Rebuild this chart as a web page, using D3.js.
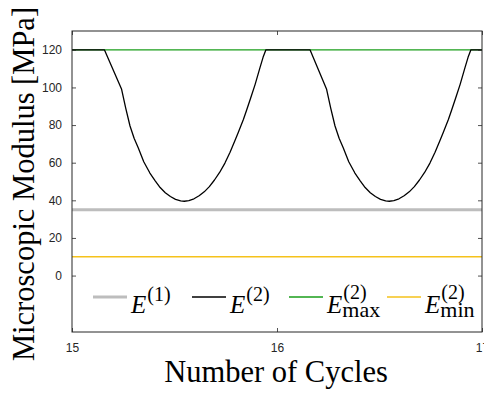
<!DOCTYPE html>
<html>
<head>
<meta charset="utf-8">
<script src="https://cdn.jsdelivr.net/npm/d3@7/dist/d3.min.js"></script>
<style>
  body { margin: 0; background: #fff; }
  svg { display: block; }
</style>
</head>
<body>
<svg id="chart" width="484" height="395"></svg>
<script>
// Cycle counter and microscopic modulus of phase 2 (MPa)
const cycleNumbers = [
  15.000, 15.158, 15.242, 15.262, 15.283, 15.303, 15.323, 15.350, 15.380, 15.405,
  15.430, 15.455, 15.480, 15.505, 15.530, 15.548, 15.570, 15.595, 15.620, 15.645,
  15.670, 15.695, 15.720, 15.746, 15.771, 15.796, 15.811, 15.836, 15.852, 15.872,
  15.893, 15.917, 15.932, 15.946,
  16.161, 16.242, 16.262, 16.283, 16.303, 16.323, 16.350, 16.380, 16.405,
  16.430, 16.455, 16.480, 16.505, 16.530, 16.548, 16.570, 16.595, 16.620, 16.645,
  16.670, 16.695, 16.720, 16.746, 16.771, 16.796, 16.811, 16.836, 16.852, 16.872,
  16.893, 16.917, 16.932, 16.946, 17.000
];
const modulusE2 = [
  120, 120, 99, 89, 79.5, 73, 68, 60.5, 54.5, 50.5,
  46.8, 44, 42, 40.5, 39.7, 39.5, 39.8, 40.8, 42.4, 44.5,
  47.3, 50.8, 54.8, 59.8, 65.5, 72, 76, 83, 88, 94.5,
  101.5, 110.5, 116, 120,
  120, 99, 89, 79.5, 73, 68, 60.5, 54.5, 50.5,
  46.8, 44, 42, 40.5, 39.7, 39.5, 39.8, 40.8, 42.4, 44.5,
  47.3, 50.8, 54.8, 59.8, 65.5, 72, 76, 83, 88, 94.5,
  101.5, 110.5, 116, 120, 120
];
const modulusE1 = 35;
const modulusMax = 120;
const modulusMin = 10;

const xDomain = [15, 17];
const yDomain = [-30, 130];
const xTicks = [15, 16, 17];
const yTicks = [0, 20, 40, 60, 80, 100, 120];

const legendEntries = [
  { key: "e1",   sup: "(1)", sub: "" },
  { key: "e2",   sup: "(2)", sub: "" },
  { key: "emax", sup: "(2)", sub: "max" },
  { key: "emin", sup: "(2)", sub: "min" }
];

const styles = {
  e1:   { color: "#bdbdbd", width: 3 },
  e2:   { color: "#000000", width: 1.3 },
  emax: { color: "#1a9e1a", width: 1.3 },
  emin: { color: "#f5c21b", width: 1.3 }
};

const svg = d3.select("#chart");
const plot = { left: 72, right: 482, top: 31, bottom: 332 };
const axisColor = "#262626";

const x = d3.scaleLinear().domain(xDomain).range([plot.left, plot.right]);
const y = d3.scaleLinear().domain(yDomain).range([plot.bottom, plot.top]);

const lineGen = d3.line().x(d => x(d[0])).y(d => y(d[1]));
const g = svg.append("g");

// constant reference levels span the full cycle range
function levelLine(value) {
  return [[xDomain[0], value], [xDomain[1], value]];
}

g.append("path").datum(levelLine(modulusE1))
  .attr("d", lineGen).attr("fill", "none")
  .attr("stroke", styles.e1.color).attr("stroke-width", styles.e1.width);
g.append("path").datum(levelLine(modulusMin))
  .attr("d", lineGen).attr("fill", "none")
  .attr("stroke", styles.emin.color).attr("stroke-width", styles.emin.width);
g.append("path").datum(levelLine(modulusMax))
  .attr("d", lineGen).attr("fill", "none")
  .attr("stroke", styles.emax.color).attr("stroke-width", styles.emax.width);
g.append("path").datum(cycleNumbers.map((c, i) => [c, modulusE2[i]]))
  .attr("d", lineGen).attr("fill", "none")
  .attr("stroke", styles.e2.color).attr("stroke-width", styles.e2.width)
  .attr("stroke-linejoin", "round");

// axes with inward ticks on all four sides
function styleAxis(sel, showLabels) {
  sel.select(".domain").remove();
  sel.selectAll(".tick line").attr("stroke", axisColor).attr("stroke-width", 0.8);
  sel.selectAll(".tick text")
    .attr("fill", axisColor)
    .style("font-family", "'Liberation Sans', Arial, sans-serif")
    .style("font-size", "12px");
  if (!showLabels) sel.selectAll(".tick text").remove();
}

svg.append("g").attr("transform", `translate(0,${plot.bottom})`)
  .call(d3.axisBottom(x).tickValues(xTicks).tickSize(-4).tickPadding(11).tickFormat(d3.format("d")))
  .call(s => styleAxis(s, true));
svg.append("g").attr("transform", `translate(0,${plot.top})`)
  .call(d3.axisTop(x).tickValues(xTicks).tickSize(-4))
  .call(s => styleAxis(s, false));
svg.append("g").attr("transform", `translate(${plot.left},0)`)
  .call(d3.axisLeft(y).tickValues(yTicks).tickSize(-4).tickPadding(10).tickFormat(d3.format("d")))
  .call(s => styleAxis(s, true));
svg.append("g").attr("transform", `translate(${plot.right},0)`)
  .call(d3.axisRight(y).tickValues(yTicks).tickSize(-4))
  .call(s => styleAxis(s, false));

svg.append("rect")
  .attr("x", plot.left).attr("y", plot.top)
  .attr("width", plot.right - plot.left).attr("height", plot.bottom - plot.top)
  .attr("fill", "none").attr("stroke", axisColor).attr("stroke-width", 1);

// axis titles
const serif = "'Liberation Serif', 'DejaVu Serif', serif";
svg.append("text")
  .attr("x", (plot.left + plot.right) / 2 - 1).attr("y", 382)
  .attr("text-anchor", "middle")
  .style("font-family", serif).style("font-size", "30.5px")
  .text("Number of Cycles");
svg.append("text")
  .attr("transform", `translate(34,184) rotate(-90)`)
  .attr("text-anchor", "middle")
  .style("font-family", serif).style("font-size", "30.5px")
  .text("Microscopic Modulus [MPa]");

// legend: sample line followed by E with stacked superscript / subscript
const legendX = [93, 192, 289, 387];
const legendLineY = 297;
const legendBaseY = 312.5;
const legend = svg.append("g");
legendEntries.forEach((entry, i) => {
  const st = styles[entry.key];
  const x0 = legendX[i];
  legend.append("line")
    .attr("x1", x0).attr("x2", x0 + 34)
    .attr("y1", legendLineY).attr("y2", legendLineY)
    .attr("stroke", st.color).attr("stroke-width", st.width);
  const tx = x0 + 38;
  const label = legend.append("text")
    .attr("x", tx).attr("y", legendBaseY)
    .style("font-family", serif);
  const eSpan = label.append("tspan")
    .style("font-style", "italic").style("font-size", "25px")
    .text("E");
  const ew = eSpan.node().getComputedTextLength() + 1;
  const supShift = entry.sub ? -13.5 : -11.5;
  label.append("tspan")
    .attr("x", tx + ew).attr("y", legendBaseY + supShift)
    .style("font-size", "20px")
    .text(entry.sup);
  if (entry.sub) {
    label.append("tspan")
      .attr("x", tx + ew - 1).attr("y", legendBaseY + 4)
      .style("font-size", "22px")
      .text(entry.sub);
  }
});
</script>
</body>
</html>
